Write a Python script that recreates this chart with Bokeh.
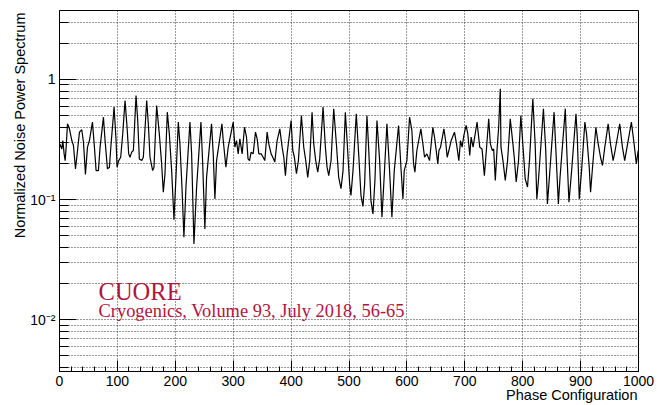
from bokeh.plotting import figure
from bokeh.models import FixedTicker, Label, Title
from bokeh.embed import file_html
from bokeh.resources import INLINE

# Phase configuration index (x) and normalized noise power spectrum (y)
phase = [
    0.5, 4, 5.7, 8, 9.8, 11.5, 13.8, 17.2, 21.3, 24.1, 27.6, 29.9, 34.5, 38.5, 41.4, 44.8,
    48.3, 51.7, 56.9, 60.3, 63.2, 67.2, 70.1, 75.9, 78.7, 82.8, 86.2, 89.1, 94.3, 97.7,
    99.4, 102.3, 105.7, 109.2, 113.2, 116.7, 119.5, 121.8, 124.7, 127.6, 132.2, 135.1,
    137.9, 142, 144.8, 150.6, 153.4, 156.3, 160.9, 163.2, 167.8, 172.4, 176.4, 179.3,
    182.2, 186.2, 189.7, 193.7, 197.7, 201.1, 205.2, 208, 211.5, 214.9, 218.4, 225.3,
    228.2, 232.2, 236.8, 244.3, 247.1, 251.1, 254, 262.6, 265.5, 268.4, 271.3, 280.5,
    282.8, 287.4, 291.4, 300, 302.9, 305.7, 308.6, 311.5,
    315.5, 319.5, 323, 325.6, 328.2, 331, 334.5, 338.5, 341.4, 344.3, 348.3, 351.7,
    354.6, 358.6, 361.5, 365.5, 368.4, 371.8, 375.9, 380.5, 384.5, 387.4, 390.2, 393.1,
    400, 402.9, 405.7, 409.2, 412.6, 417.8, 421.8, 425.3, 428.7, 432.2, 436.2, 439.1,
    442.5, 446, 449.4, 455.2, 459.2, 462.1, 465, 469, 473.6, 478.2, 482.2, 486.2, 489.7,
    493.7, 497.7, 501.1, 503.4, 506.9, 512.6, 516.7, 520.7, 524.1, 527, 531, 533.9,
    537.9, 541.4, 544.8, 548.3, 552.9, 556.9, 559.8, 565.5, 570.1, 574.1, 578.2, 585.6,
    589.7, 593.1, 595.4, 600, 604.6, 608.6, 611.5, 613.8, 617.2, 624.1, 627.6, 630.5,
    634.5, 639.1, 644.8, 647.7, 650.6, 653.4,
    655.3, 658.2, 663.9, 666.8, 669.6, 672.5, 676.5, 682.2, 685.7, 689.7, 692.6, 695.4,
    698.3, 702.3, 705.2, 708.6, 710.9, 714.3, 721.2, 725.8, 729.8, 733.8, 737.2, 741.3,
    744.1, 747.6, 749.9, 752.7, 755.6, 758.5, 761.3, 762.5, 765.9, 769.9, 773.9, 778.5,
    783.1, 785.4, 788.8, 792.8, 796.8, 801.4, 804.3, 808.3, 811.7, 817.5, 821.5, 824.4,
    827.2, 835.8, 839.8, 842.7, 846.1, 854.2, 857.6, 861.6, 864.5, 873.6, 875.9, 879.9,
    884.5, 892, 894.3, 897.7, 901.7, 907.4, 910.3, 914.9, 917.2, 920.6, 926.4, 930.4,
    934.4, 937.8, 941.8, 947.6, 951.6, 956.2, 959.6, 967.6, 972.2, 976.2, 980.2, 987.7,
    991.7, 996.3, 999.5,
]
power = [
    0.29, 0.264, 0.31, 0.24, 0.211, 0.273, 0.427, 0.388, 0.31, 0.282, 0.18, 0.225, 0.364, 0.381, 0.30, 0.162,
    0.273, 0.31, 0.441, 0.273, 0.174, 0.174, 0.273, 0.485, 0.31, 0.18, 0.186, 0.291, 0.588, 0.31,
    0.186, 0.211, 0.225, 0.352, 0.668, 0.40, 0.24, 0.225, 0.248, 0.256, 0.736, 0.455,
    0.218, 0.211, 0.225, 0.668, 0.427, 0.225, 0.174, 0.186, 0.607, 0.352, 0.198, 0.115,
    0.164, 0.534, 0.352, 0.174, 0.068, 0.153, 0.441, 0.291, 0.127, 0.0485, 0.127, 0.441,
    0.24, 0.0427, 0.127, 0.441, 0.211, 0.057, 0.153, 0.427, 0.24, 0.101, 0.211, 0.427,
    0.31, 0.186, 0.273, 0.441, 0.273, 0.31, 0.24, 0.32,
    0.24, 0.40, 0.331, 0.218, 0.211, 0.248, 0.24, 0.364, 0.32, 0.24, 0.24, 0.225,
    0.211, 0.364, 0.291, 0.24, 0.225, 0.205, 0.31, 0.388, 0.273, 0.225, 0.158, 0.24,
    0.455, 0.256, 0.225, 0.164, 0.211, 0.501, 0.273, 0.211, 0.153, 0.211, 0.534, 0.291,
    0.211, 0.169, 0.218, 0.588, 0.273, 0.186, 0.158, 0.211, 0.57, 0.291, 0.153, 0.123, 0.174,
    0.534, 0.256, 0.135, 0.108, 0.174, 0.518, 0.24, 0.108, 0.0875, 0.135, 0.501, 0.273,
    0.098, 0.076, 0.144, 0.455, 0.211, 0.0712, 0.127, 0.427, 0.174, 0.0712, 0.174, 0.414,
    0.186, 0.101, 0.174, 0.211, 0.485, 0.376, 0.198, 0.169, 0.256, 0.388, 0.291, 0.225,
    0.24, 0.211, 0.40, 0.331, 0.256, 0.198,
    0.256, 0.273, 0.388, 0.31, 0.225, 0.256, 0.31, 0.364, 0.291, 0.211, 0.31, 0.273,
    0.341, 0.414, 0.352, 0.233, 0.331, 0.273, 0.441, 0.273, 0.264, 0.158, 0.256, 0.47,
    0.291, 0.256, 0.264, 0.144, 0.256, 0.40, 0.836, 0.273, 0.211, 0.144, 0.211, 0.47,
    0.291, 0.225, 0.14, 0.211, 0.501, 0.24, 0.149, 0.127, 0.211, 0.69, 0.291, 0.101,
    0.144, 0.571, 0.256, 0.092, 0.153, 0.534, 0.24, 0.092, 0.153, 0.571, 0.273, 0.095,
    0.174, 0.518, 0.331, 0.101, 0.174, 0.441, 0.352, 0.186, 0.115, 0.186, 0.40, 0.291,
    0.225, 0.192, 0.273, 0.427, 0.291, 0.211, 0.256, 0.427, 0.273, 0.211, 0.273, 0.441,
    0.31, 0.198, 0.256,
]

x_major_ticks = list(range(0, 1001, 100))
x_minor_ticks = list(range(0, 1001, 20))
y_major_ticks = [0.01, 0.1, 1.0]
y_minor_ticks = [0.004, 0.005, 0.006, 0.007, 0.008, 0.009,
                 0.02, 0.03, 0.04, 0.05, 0.06, 0.07, 0.08, 0.09,
                 0.2, 0.3, 0.4, 0.5, 0.6, 0.7, 0.8, 0.9, 2.0, 3.0]
y_tick_labels = {0.01: "10\u207b\u00b2", 0.1: "10\u207b\u00b9", 1.0: "1"}

x_title = "Phase Configuration"
y_title = "Normalized Noise Power Spectrum"
note_1 = "CUORE"
note_2 = "Cryogenics, Volume 93, July 2018, 56-65"

SANS = "Liberation Sans"
SERIF = "Liberation Serif"
NOTE_COLOR = "#b3143f"

p = figure(width=666, height=405, x_range=(0, 1000), y_range=(0.0037, 3.75),
           y_axis_type="log", output_backend="svg", toolbar_location=None,
           min_border_left=59, min_border_right=28, min_border_top=10, min_border_bottom=34,
           background_fill_color="white", border_fill_color="white")
p.outline_line_color = "black"
p.outline_line_width = 1
p.outline_line_alpha = 1

xt = FixedTicker(ticks=x_major_ticks, minor_ticks=x_minor_ticks)
yt = FixedTicker(ticks=y_major_ticks, minor_ticks=y_minor_ticks)
p.xaxis.ticker = xt
p.yaxis.ticker = yt
p.xgrid.ticker = FixedTicker(ticks=x_major_ticks)
p.ygrid.ticker = yt

for g in (p.xgrid, p.ygrid):
    g.grid_line_color = "black"
    g.grid_line_dash = "1 2"
    g.grid_line_width = 1
    g.grid_line_alpha = 0.8
p.ygrid.minor_grid_line_color = "black"
p.ygrid.minor_grid_line_dash = "1 2"
p.ygrid.minor_grid_line_alpha = 0.8

p.yaxis.major_label_overrides = y_tick_labels

for ax in (p.xaxis, p.yaxis):
    ax.axis_line_color = "black"
    ax.major_tick_line_color = "black"
    ax.minor_tick_line_color = "black"
    ax.major_tick_out = 0
    ax.minor_tick_out = 0
    ax.major_label_text_font = SANS
    ax.major_label_text_font_size = "14px"
    ax.major_label_text_color = "black"
    ax.axis_label = None
p.xaxis.major_tick_in = 11
p.xaxis.minor_tick_in = 5
p.yaxis.major_tick_in = 17
p.yaxis.minor_tick_in = 9
p.xaxis.major_label_standoff = 4
p.yaxis.major_label_standoff = 4

p.add_layout(Title(text=x_title, align="right", vertical_align="bottom", offset=1, standoff=-8,
                   text_font=SANS, text_font_size="14.5px", text_font_style="normal",
                   text_color="black"), "below")
p.add_layout(Title(text=y_title, align="right", vertical_align="bottom", offset=2, standoff=0,
                   text_font=SANS, text_font_size="14.5px", text_font_style="normal",
                   text_color="black"), "left")

p.line(phase, power, line_color="black", line_width=1.2)

p.add_layout(Label(x=67.5, y=0.0171, text=note_1, text_align="left", text_baseline="alphabetic",
                   text_font=SERIF, text_font_size="24.5px", text_color=NOTE_COLOR))
p.add_layout(Label(x=67.5, y=0.0117, text=note_2, text_align="left", text_baseline="alphabetic",
                   text_font=SERIF, text_font_size="18.4px", text_color=NOTE_COLOR))

open("out.html", "w").write(file_html(p, INLINE))
